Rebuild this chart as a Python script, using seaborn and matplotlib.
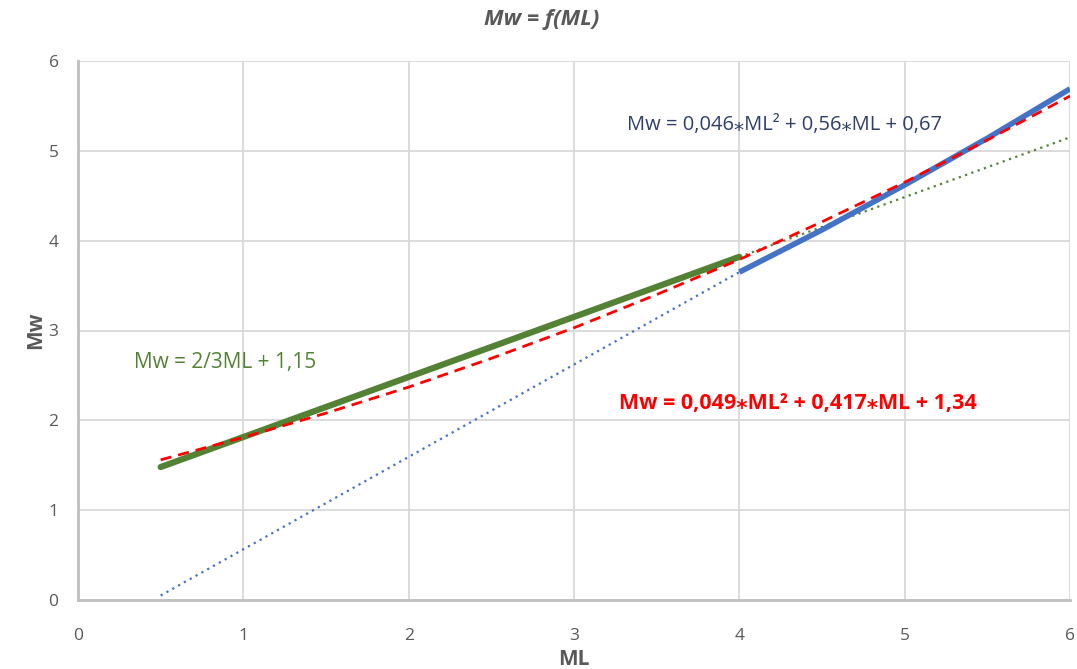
import matplotlib
matplotlib.use("Agg")
import matplotlib.pyplot as plt
import seaborn as sns
import pandas as pd

# Data
green_x = [0.5, 4.0]
green_y = [1.48, 3.82]
green_ext_x = [4.0, 6.0]
green_ext_y = [3.82, 5.15]

blue_x = [4.0, 4.5, 5.0, 5.5, 6.0]
blue_y = [3.65, 4.12, 4.62, 5.14, 5.69]
blue_ext_x = [0.5, 4.0]
blue_ext_y = [0.05, 3.65]

red_x = [0.5, 1.0, 1.5, 2.0, 2.5, 3.0, 3.5, 4.0, 4.5, 5.0, 5.5, 6.0]
red_y = [1.56, 1.81, 2.08, 2.37, 2.69, 3.03, 3.40, 3.79, 4.21, 4.65, 5.12, 5.61]

x_ticks = [0, 1, 2, 3, 4, 5, 6]
y_ticks = [0, 1, 2, 3, 4, 5, 6]

title = "Mw = f(ML)"
xlabel = "ML"
ylabel = "Mw"
eq_blue = "Mw = 0,046\u204eML\u00b2 + 0,56\u204eML + 0,67"
eq_red = "Mw = 0,049\u204eML\u00b2 + 0,417\u204eML + 1,34"
eq_green = "Mw = 2/3ML + 1,15"

sns.set_style("white")
plt.rcParams['font.family'] = ['Open Sans', 'DejaVu Sans']

fig = plt.figure(figsize=(10.77, 6.69), dpi=100)
ax = fig.add_axes([78/1077, 69/669, (1070-78)/1077, (600-61)/669])

GREEN = "#548235"
BLUE = "#4472C4"
RED = "#FF0000"
GRAY = "#595959"

def df(x, y):
    return pd.DataFrame({"x": x, "y": y})

sns.lineplot(data=df(blue_ext_x, blue_ext_y), x="x", y="y", ax=ax, color=BLUE,
             lw=1.6, linestyle=(0, (1, 2)), zorder=3)
sns.lineplot(data=df(green_ext_x, green_ext_y), x="x", y="y", ax=ax, color=GREEN,
             lw=1.6, linestyle=(0, (1, 2)), zorder=3)
sns.lineplot(data=df(green_x, green_y), x="x", y="y", ax=ax, color=GREEN,
             lw=4.5, solid_capstyle="round", zorder=4)
sns.lineplot(data=df(blue_x, blue_y), x="x", y="y", ax=ax, color=BLUE,
             lw=4.0, solid_capstyle="butt", zorder=4)
sns.lineplot(data=df(red_x, red_y), x="x", y="y", ax=ax, color=RED,
             lw=2.0, linestyle=(0, (4, 2.5)), zorder=5)

ax.set_xlim(0, 6)
ax.set_ylim(0, 6)
ax.set_xticks(x_ticks)
ax.set_yticks(y_ticks)
ax.set_xticklabels([str(t) for t in x_ticks])
ax.set_yticklabels([str(t) for t in y_ticks])
ax.tick_params(axis="x", length=0, labelsize=12.5, labelcolor=GRAY, pad=20)
ax.tick_params(axis="y", length=0, labelsize=12.5, labelcolor=GRAY, pad=14)

ax.grid(True, color="#D9D9D9", lw=1.3)
ax.set_axisbelow(True)
for s in ["top", "right"]:
    ax.spines[s].set_visible(False)
for s in ["left", "bottom"]:
    ax.spines[s].set_color("#BFBFBF")
    ax.spines[s].set_linewidth(2)

ax.set_xlabel(xlabel, fontsize=15, fontweight="bold", color=GRAY, labelpad=4)
ax.set_ylabel(ylabel, fontsize=15, fontweight="bold", color=GRAY, labelpad=2)

fig.text(542/1077, 1 - 19/669, title, ha="center", va="center", fontsize=16,
         fontweight="bold", fontstyle="italic", color=GRAY)

ax.text(3.32, 5.29, eq_blue, fontsize=14.5, color="#2F3F6B", ha="left", va="center")
ax.text(3.27, 2.19, eq_red, fontsize=15.5, color=RED, fontweight="bold", ha="left", va="center")
ax.text(0.34, 2.64, eq_green, fontsize=15, color=GREEN, ha="left", va="center")

fig.savefig("out.png", dpi=100)
